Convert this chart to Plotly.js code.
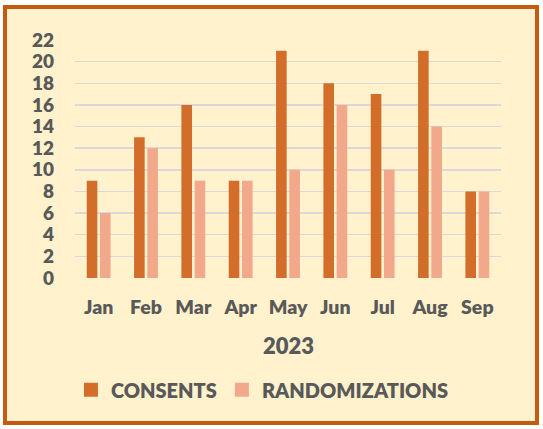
<!DOCTYPE html>
<html><head><meta charset="utf-8">
<script src="https://cdn.plot.ly/plotly-3.0.1.min.js"></script>
<style>
html,body{margin:0;padding:0;background:#fff;}
#frame{position:absolute;left:3px;top:5px;width:528px;height:412px;border:4px solid #C55A11;background:#FFF2CC;}
#chart{width:528px;height:412px;}
</style></head>
<body><div id="frame"><div id="chart"></div></div>
<script>
const months = ["Jan","Feb","Mar","Apr","May","Jun","Jul","Aug","Sep"];
const consents = [9,13,16,9,21,18,17,21,8];
const randomizations = [6,12,9,9,10,16,10,14,8];
const yTicks = [0,2,4,6,8,10,12,14,16,18,20,22];
const seriesNames = ["CONSENTS","RANDOMIZATIONS"];
const colors = ["#D26D2A","#F2A88B"];
const xTitle = "2023";
const txt = "#595959";
const fnt = "Lato, 'Open Sans', sans-serif";
const data = [
 {type:"bar", name:seriesNames[0], x:months, y:consents, marker:{color:colors[0]}, showlegend:false},
 {type:"bar", name:seriesNames[1], x:months, y:randomizations, marker:{color:colors[1]}, showlegend:false},
 {type:"scatter", mode:"markers", name:seriesNames[0], x:[null], y:[null], marker:{symbol:"square", size:14, color:colors[0]}},
 {type:"scatter", mode:"markers", name:seriesNames[1], x:[null], y:[null], marker:{symbol:"square", size:14, color:colors[1]}}
];
const layout = {
 width:528, height:412,
 margin:{l:68,r:34,t:31,b:141},
 paper_bgcolor:"#FFF2CC", plot_bgcolor:"#FFF2CC",
 barmode:"group", bargap:0.44, bargroupgap:0.2,
 font:{family:fnt, color:txt},
 xaxis:{type:"category", showgrid:false, zeroline:false, showline:false, ticks:"", ticklabelstandoff:15,
   tickfont:{size:19.5, family:fnt, color:txt, weight:800}},
 yaxis:{range:[0,22], tickvals:yTicks, showgrid:true, gridcolor:"#D9D9D9", gridwidth:1.5,
   zeroline:false, showline:false, ticks:"", ticklabelstandoff:20,
   tickfont:{size:19, family:fnt, color:txt, weight:800}},
 annotations:[{text:xTitle, xref:"paper", yref:"paper", x:0.5, y:-0.285, yanchor:"middle", showarrow:false,
   font:{size:22, family:fnt, color:txt, weight:800}}],
 legend:{orientation:"h", x:0.44, xanchor:"center", y:-0.47, yanchor:"middle", bgcolor:"rgba(0,0,0,0)",
   font:{size:20, family:fnt, color:txt, weight:800}, itemwidth:30, traceorder:"normal"},
 showlegend:true
};
Plotly.newPlot("chart", data, layout, {displayModeBar:false, staticPlot:true});
</script></body></html>
